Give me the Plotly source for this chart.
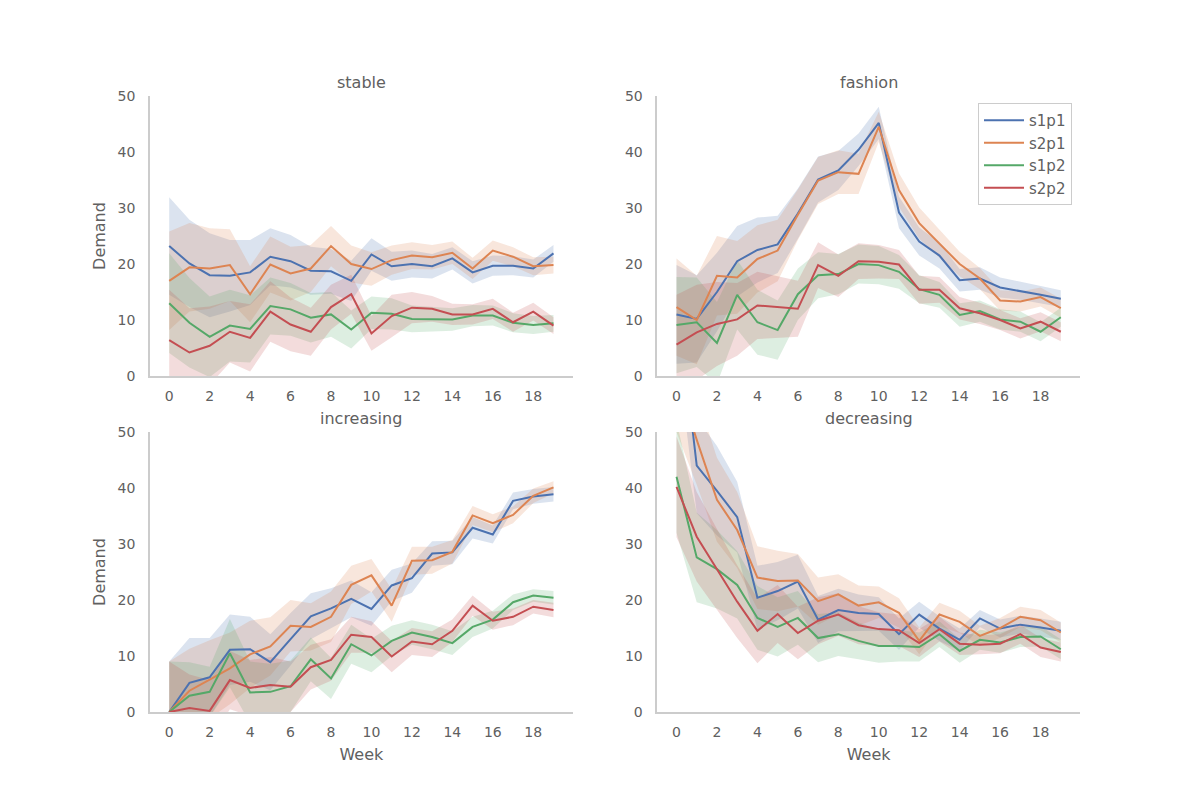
import plotly.graph_objects as go

weeks = list(range(20))
series_names = ["s1p1", "s2p1", "s1p2", "s2p2"]
panel_titles = ["stable", "fashion", "increasing", "decreasing"]
x_ticks = [0, 2, 4, 6, 8, 10, 12, 14, 16, 18]
y_ticks = [0, 10, 20, 30, 40, 50]

# mean demand per week
stable_s1p1 = [23.2, 20.1, 18.0, 17.9, 18.5, 21.3, 20.5, 18.8, 18.7, 17.0,
               21.7, 19.6, 20.0, 19.6, 21.0, 18.5, 19.7, 19.7, 19.2, 21.9]
stable_s2p1 = [17.0, 19.4, 19.2, 19.8, 14.6, 19.9, 18.3, 19.2, 23.2, 20.0,
               19.1, 20.7, 21.5, 21.2, 22.0, 19.2, 22.4, 21.3, 19.6, 19.8]
stable_s1p2 = [13.0, 9.5, 7.0, 9.0, 8.4, 12.5, 11.9, 10.4, 11.0, 8.3,
               11.3, 11.1, 10.2, 10.1, 10.1, 10.8, 10.8, 9.5, 9.1, 9.4]
stable_s2p2 = [6.4, 4.2, 5.4, 7.9, 6.8, 11.5, 9.2, 7.9, 12.3, 14.6,
               7.6, 10.7, 12.2, 12.0, 11.0, 11.0, 12.0, 9.6, 11.5, 9.0]

fashion_s1p1 = [11.0, 10.2, 15.0, 20.5, 22.5, 23.5, 29.0, 35.1, 36.7, 40.4,
                45.2, 29.2, 24.0, 21.5, 17.1, 17.4, 15.8, 15.2, 14.5, 13.8]
fashion_s2p1 = [12.3, 10.0, 17.9, 17.6, 20.9, 22.4, 28.8, 34.9, 36.4, 36.1,
                44.5, 33.2, 27.3, 23.7, 20.0, 17.4, 13.5, 13.3, 14.1, 12.1]
fashion_s1p2 = [9.1, 9.6, 5.9, 14.5, 9.6, 8.2, 14.6, 18.0, 18.2, 20.0,
                19.8, 18.6, 15.5, 14.5, 10.9, 11.6, 10.1, 9.7, 7.9, 10.5]
fashion_s2p2 = [5.6, 7.8, 9.3, 10.1, 12.6, 12.3, 12.0, 19.8, 17.9, 20.5,
                20.4, 19.9, 15.4, 15.4, 12.1, 11.2, 10.0, 8.5, 9.7, 7.9]

increasing_s1p1 = [0.0, 5.2, 6.2, 11.1, 11.2, 8.9, 13.0, 17.1, 18.5, 20.2,
                   18.4, 22.6, 23.9, 28.3, 28.5, 32.9, 31.7, 37.7, 38.5, 38.9]
increasing_s2p1 = [0.0, 3.8, 5.8, 7.8, 10.3, 11.7, 15.4, 15.2, 17.0, 22.7,
                   24.4, 19.0, 27.0, 27.1, 28.6, 35.1, 33.7, 35.2, 38.6, 40.1]
increasing_s1p2 = [0.0, 2.9, 3.6, 10.5, 3.5, 3.6, 4.6, 9.4, 6.0, 12.1,
                   10.1, 12.7, 14.2, 13.4, 12.3, 15.2, 16.5, 19.6, 20.8, 20.4]
increasing_s2p2 = [0.0, 0.7, 0.2, 5.7, 4.3, 4.8, 4.5, 8.0, 9.3, 13.8,
                   13.4, 9.9, 12.6, 12.1, 14.5, 19.0, 16.3, 17.0, 18.8, 18.2]

decreasing_s1p1 = [75.0, 44.0, 39.5, 34.8, 20.4, 21.6, 23.3, 16.5, 18.2, 17.7,
                   17.5, 13.9, 17.4, 14.9, 12.9, 16.7, 14.9, 15.6, 15.1, 14.5]
decreasing_s2p1 = [60.0, 48.6, 37.9, 32.5, 24.0, 23.4, 23.5, 19.8, 21.0, 19.0,
                   19.6, 17.7, 12.7, 17.4, 16.1, 13.6, 15.0, 17.0, 16.4, 14.2]
decreasing_s1p2 = [42.0, 27.6, 25.5, 22.7, 16.8, 15.2, 16.8, 13.2, 13.9, 12.7,
                   11.8, 11.8, 11.6, 13.9, 10.9, 12.9, 12.4, 13.4, 13.5, 11.2]
decreasing_s2p2 = [40.2, 31.3, 25.5, 19.7, 14.5, 17.5, 14.1, 16.3, 17.4, 15.5,
                   14.8, 14.6, 12.3, 14.8, 12.2, 12.0, 12.2, 13.9, 11.5, 10.7]

# half width of the 95% band per week
stable_s1p1_ci = [8.7, 7.8, 7.5, 6.4, 5.8, 5.1, 4.7, 4.3, 4.0, 3.6,
                  2.9, 2.6, 2.4, 2.2, 2.0, 2.0, 1.8, 1.7, 1.6, 1.5]
stable_s2p1_ci = [8.8, 7.9, 7.2, 6.4, 5.0, 5.0, 4.8, 4.2, 3.6, 3.3,
                  3.0, 2.6, 2.4, 2.2, 2.0, 1.9, 1.8, 1.7, 1.6, 1.5]
stable_s1p2_ci = [8.9, 8.0, 7.2, 6.4, 6.0, 5.1, 4.7, 4.4, 4.0, 3.4,
                  2.9, 2.8, 2.4, 2.2, 2.0, 1.9, 1.8, 1.7, 1.6, 1.5]
stable_s2p2_ci = [9.0, 7.9, 7.0, 5.5, 6.0, 5.4, 4.8, 4.3, 4.0, 3.5,
                  3.1, 3.8, 2.8, 2.3, 1.9, 1.8, 1.8, 1.7, 1.6, 1.5]

fashion_s1p1_ci = [8.8, 7.8, 7.0, 6.3, 5.8, 5.1, 4.5, 4.1, 3.5, 2.9,
                   2.9, 2.8, 2.5, 2.3, 2.0, 2.0, 1.8, 1.6, 1.5, 1.5]
fashion_s2p1_ci = [8.7, 7.9, 7.1, 6.5, 6.0, 5.5, 4.5, 4.2, 3.9, 3.6,
                   2.7, 3.0, 2.8, 2.5, 2.2, 1.9, 1.8, 1.8, 1.7, 1.7]
fashion_s1p2_ci = [8.6, 8.0, 7.3, 6.2, 5.8, 5.3, 4.6, 4.1, 3.6, 3.5,
                   3.4, 3.0, 2.5, 2.3, 2.1, 1.9, 1.8, 1.8, 1.7, 1.7]
fashion_s2p2_ci = [8.9, 8.5, 7.5, 6.5, 6.0, 5.5, 5.0, 4.1, 3.8, 3.2,
                   3.0, 2.6, 2.5, 2.3, 2.0, 1.9, 1.8, 1.8, 1.7, 1.7]

increasing_s1p1_ci = [9.0, 8.0, 7.0, 6.3, 5.8, 5.0, 4.7, 4.1, 3.6, 3.3,
                      3.0, 2.8, 2.6, 2.2, 2.1, 1.9, 1.6, 1.5, 1.3, 1.3]
increasing_s2p1_ci = [9.0, 7.5, 7.0, 6.4, 6.0, 5.2, 4.6, 4.2, 4.5, 3.4,
                      2.9, 2.9, 2.5, 2.4, 2.1, 1.7, 1.6, 1.5, 1.3, 1.1]
increasing_s1p2_ci = [9.0, 6.0, 4.5, 6.1, 5.5, 5.0, 4.6, 3.9, 3.7, 3.5,
                      3.0, 2.7, 2.2, 2.2, 2.1, 1.8, 1.6, 1.4, 1.1, 1.2]
increasing_s2p2_ci = [9.0, 6.0, 5.5, 5.2, 5.0, 5.0, 4.5, 4.0, 3.7, 3.2,
                      2.8, 2.8, 2.4, 2.3, 2.0, 1.8, 1.6, 1.5, 1.2, 1.3]

decreasing_s1p1_ci = [10.0, 8.5, 8.0, 6.3, 5.7, 5.2, 4.8, 4.2, 3.8, 3.3,
                      3.0, 2.8, 2.3, 2.2, 2.0, 1.5, 1.6, 1.6, 1.6, 1.6]
decreasing_s2p1_ci = [10.0, 8.0, 7.5, 6.8, 5.6, 5.4, 4.7, 4.2, 3.6, 3.6,
                      2.8, 2.6, 2.4, 2.1, 2.0, 1.8, 1.8, 1.8, 1.8, 1.8]
decreasing_s1p2_ci = [10.0, 8.0, 7.0, 6.0, 5.7, 5.3, 4.8, 4.3, 3.9, 3.3,
                      3.0, 2.8, 2.6, 2.3, 2.1, 1.8, 1.8, 1.8, 1.8, 1.8]
decreasing_s2p2_ci = [9.0, 8.0, 7.2, 6.5, 5.8, 5.2, 4.7, 4.2, 3.8, 3.4,
                      3.0, 2.8, 2.5, 2.2, 2.0, 1.7, 1.7, 1.7, 1.7, 1.7]

panels = [
    [stable_s1p1, stable_s2p1, stable_s1p2, stable_s2p2],
    [fashion_s1p1, fashion_s2p1, fashion_s1p2, fashion_s2p2],
    [increasing_s1p1, increasing_s2p1, increasing_s1p2, increasing_s2p2],
    [decreasing_s1p1, decreasing_s2p1, decreasing_s1p2, decreasing_s2p2],
]
panels_ci = [
    [stable_s1p1_ci, stable_s2p1_ci, stable_s1p2_ci, stable_s2p2_ci],
    [fashion_s1p1_ci, fashion_s2p1_ci, fashion_s1p2_ci, fashion_s2p2_ci],
    [increasing_s1p1_ci, increasing_s2p1_ci, increasing_s1p2_ci, increasing_s2p2_ci],
    [decreasing_s1p1_ci, decreasing_s2p1_ci, decreasing_s1p2_ci, decreasing_s2p2_ci],
]

colors = ["#4C72B0", "#DD8452", "#55A868", "#C44E52"]
fills = ["rgba(76,114,176,0.2)", "rgba(221,132,82,0.2)",
         "rgba(85,168,104,0.2)", "rgba(196,78,82,0.2)"]
text_col = "#606060"
font = "DejaVu Sans"

# page body has an 8px margin, so the figure is a bit smaller than the window
W, H, OFF = 1192, 792, 8


def px_x(v):
    return (v - OFF) / W


def px_y(v):
    return 1 - (v - OFF) / H


# subplot boxes in window pixels: left, right, top, bottom
boxes = [(150, 572.7, 96, 376), (657.3, 1080, 96, 376),
         (150, 572.7, 432, 712), (657.3, 1080, 432, 712)]

fig = go.Figure()

for p in range(4):
    xa = "x" if p == 0 else "x" + str(p + 1)
    ya = "y" if p == 0 else "y" + str(p + 1)
    # bands first
    for s in range(4):
        mean = panels[p][s]
        ci = panels_ci[p][s]
        upper = [m + c for m, c in zip(mean, ci)]
        lower = [m - c for m, c in zip(mean, ci)]
        fig.add_trace(go.Scatter(
            x=weeks + weeks[::-1], y=upper + lower[::-1],
            fill="toself", fillcolor=fills[s], line=dict(width=0),
            mode="lines", hoverinfo="skip", showlegend=False,
            xaxis=xa, yaxis=ya))
    for s in range(4):
        fig.add_trace(go.Scatter(
            x=weeks, y=panels[p][s], mode="lines",
            line=dict(color=colors[s], width=2),
            name=series_names[s], showlegend=(p == 1),
            xaxis=xa, yaxis=ya))

layout = dict(
    width=W, height=H,
    paper_bgcolor="white", plot_bgcolor="white",
    margin=dict(l=0, r=0, t=0, b=0, autoexpand=False),
    font=dict(family=font, size=14, color=text_col),
    legend=dict(x=px_x(1072), y=px_y(103), xanchor="right", yanchor="top",
                bgcolor="white", bordercolor="#cccccc", borderwidth=1,
                itemwidth=40, font=dict(size=15, color=text_col), tracegroupgap=0),
    annotations=[],
)

for p in range(4):
    key = "" if p == 0 else str(p + 1)
    l, r, t, b = boxes[p]
    layout["xaxis" + key] = dict(
        domain=[px_x(l), px_x(r)], anchor="y" + key, range=[-0.95, 19.95],
        tickmode="array", tickvals=x_ticks, showgrid=False, zeroline=False,
        showline=True, linecolor="#cccccc", linewidth=1.5, ticks="",
        automargin=False,
        ticklabelstandoff=6, tickfont=dict(size=14, color=text_col),
        title=dict(text="Week" if p >= 2 else "", font=dict(size=16, color=text_col), standoff=10),
    )
    layout["yaxis" + key] = dict(
        domain=[px_y(b), px_y(t)], anchor="x" + key, range=[0, 50],
        tickmode="array", tickvals=y_ticks, showgrid=False, zeroline=False,
        showline=True, linecolor="#cccccc", linewidth=1.5, ticks="",
        automargin=False,
        ticklabelstandoff=10, tickfont=dict(size=14, color=text_col),
        title=dict(text="Demand" if p in (0, 2) else "", font=dict(size=16, color=text_col), standoff=8),
    )
    layout["annotations"].append(dict(
        text=panel_titles[p], xref="paper", yref="paper",
        x=px_x((l + r) / 2), y=px_y(t), xanchor="center", yanchor="bottom",
        yshift=2, showarrow=False, font=dict(size=16, color=text_col)))

fig.update_layout(**layout)
fig.write_html("out.html")
